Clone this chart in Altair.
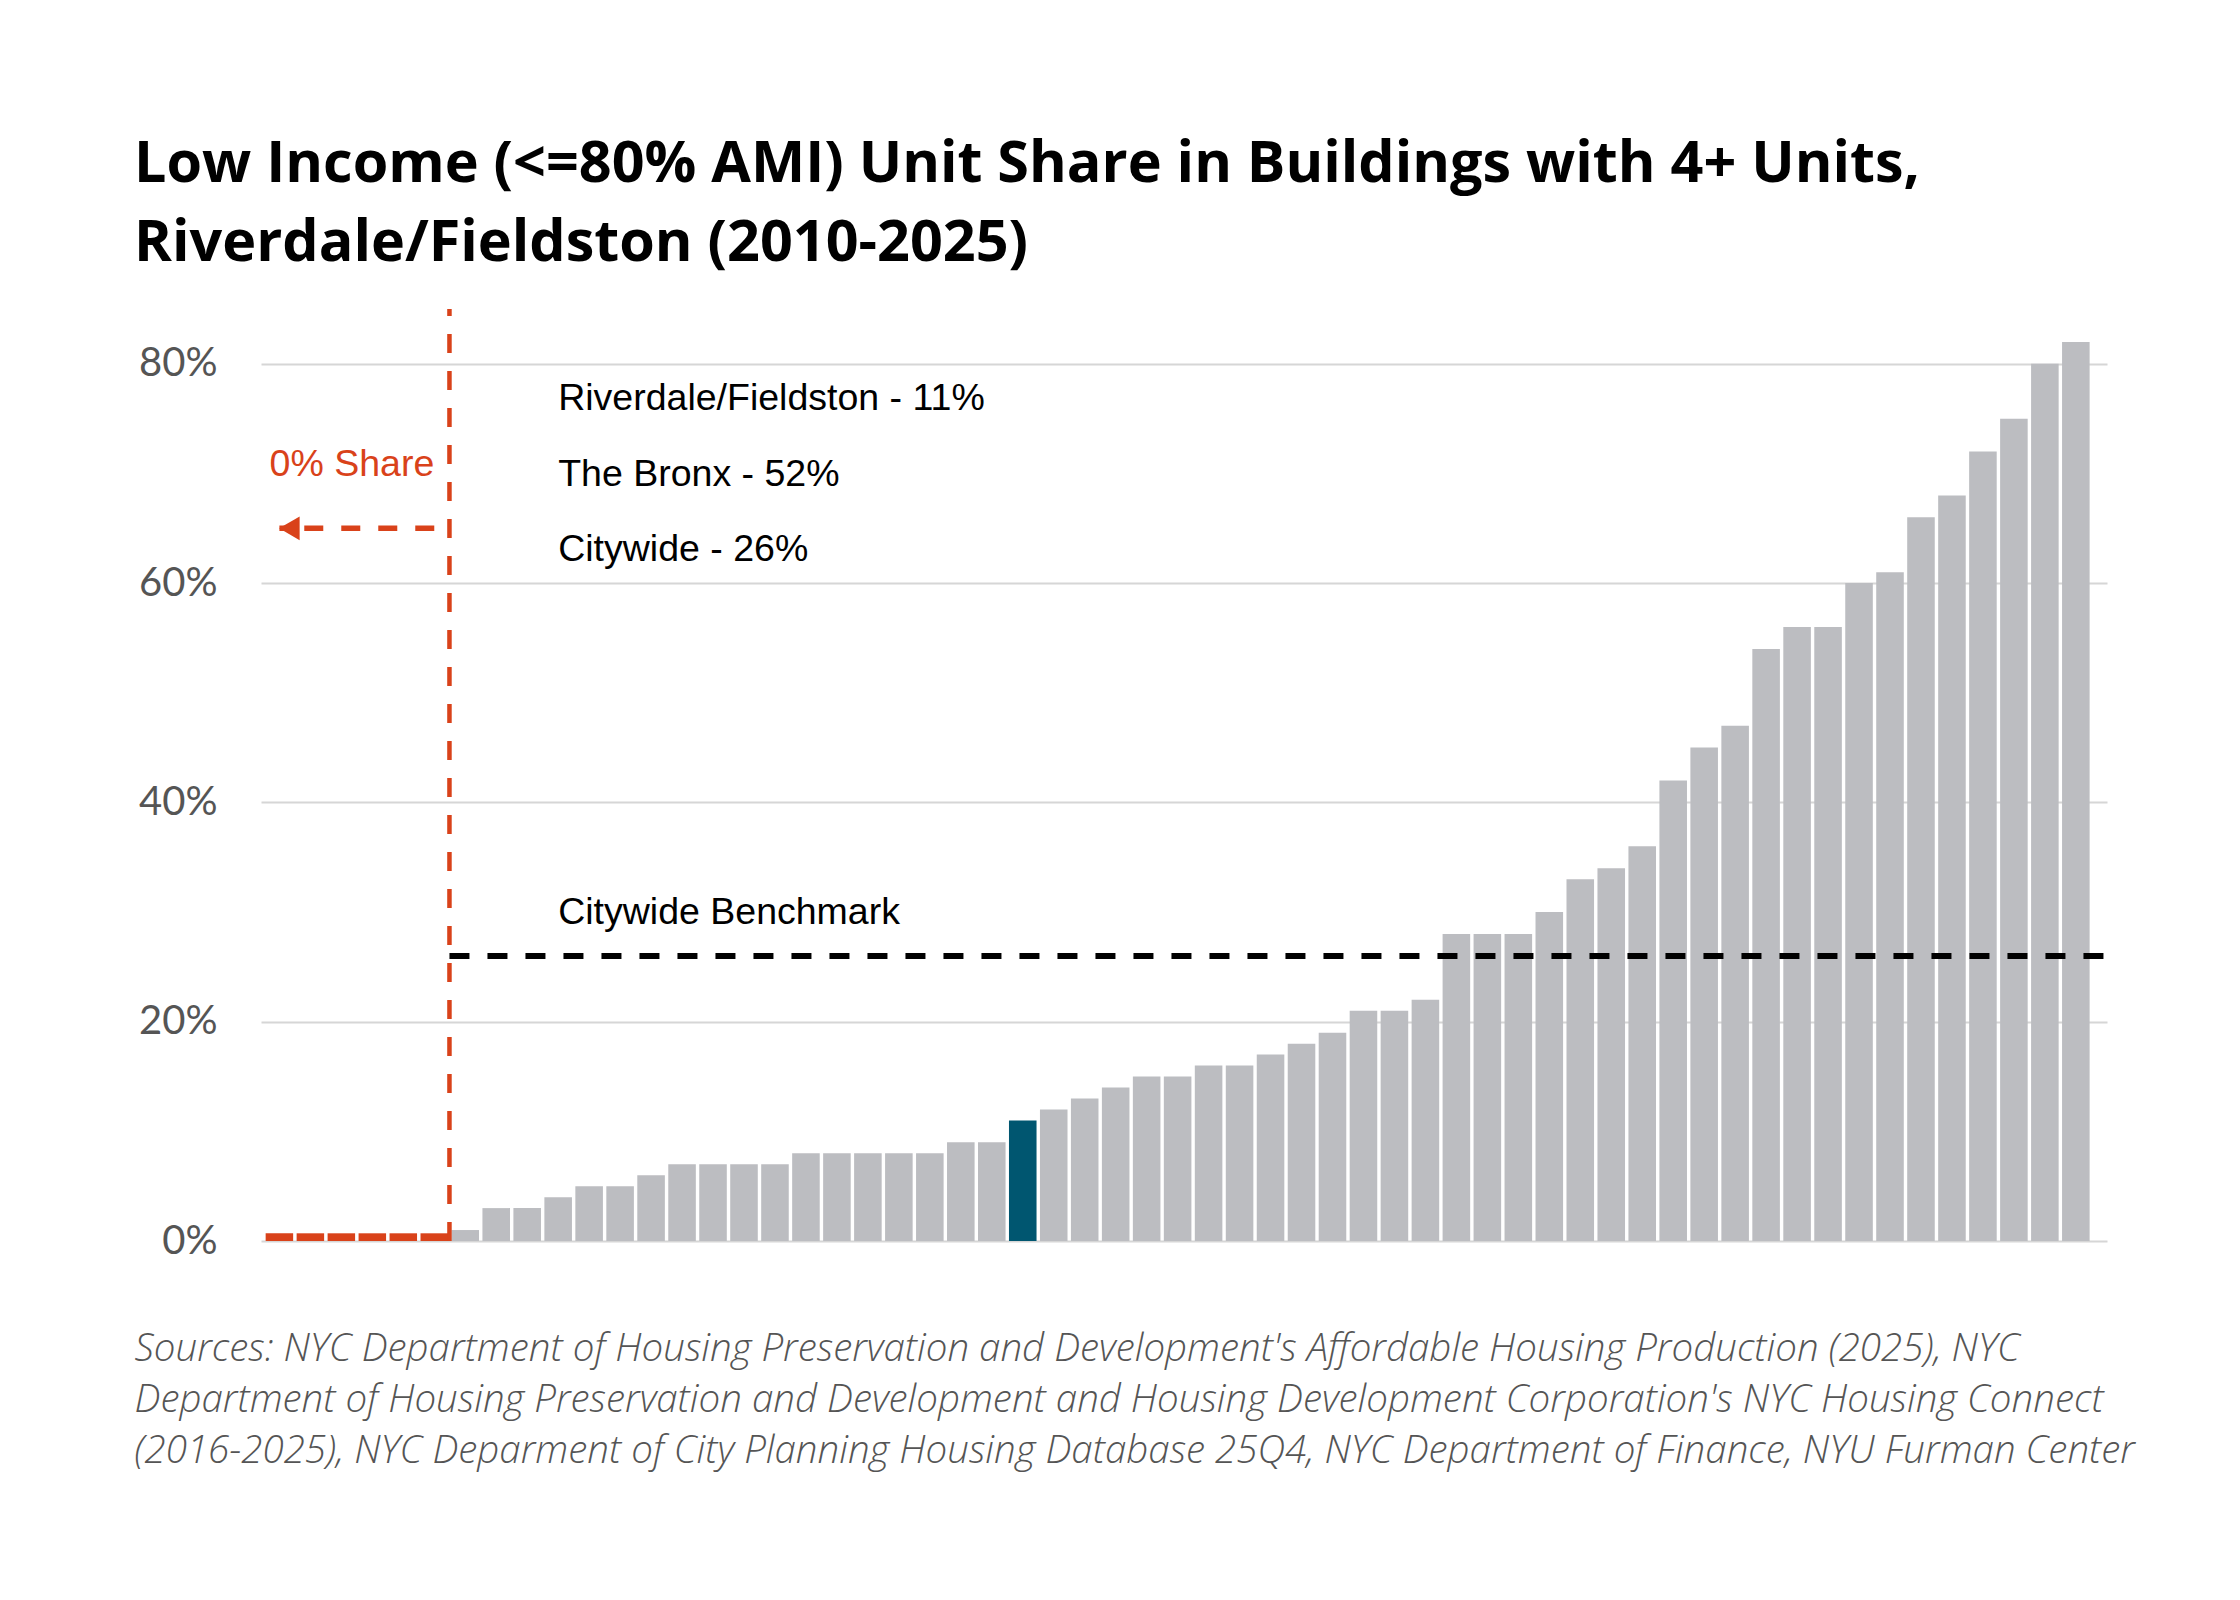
import altair as alt
import pandas as pd

# Ranked community-district shares (%), low income unit share, 4+ unit buildings
ranks = list(range(1, 60))
shares = [0, 0, 0, 0, 0, 0,
          1, 3, 3, 4, 5, 5, 6, 7, 7, 7, 7, 8, 8, 8, 8, 8, 9, 9,
          11, 12, 13, 14, 15, 15, 16, 16, 17, 18, 19, 21, 21, 22,
          28, 28, 28, 30, 33, 34, 36, 42, 45, 47, 54, 56, 56, 60, 61,
          66, 68, 72, 75, 80, 82]
highlight_rank = 25  # Riverdale/Fieldston

benchmark = 26
first_nonzero_rank = 7

legend_lines = ["Riverdale/Fieldston - 11%", "The Bronx - 52%", "Citywide - 26%"]
legend_y = [75.8, 68.9, 62.0]
bench_label = "Citywide Benchmark"
bench_label_y = 28.9
zero_label = "0% Share"
zero_label_y = 69.8
arrow_y = 65

title_lines = ["Low Income (<=80% AMI) Unit Share in Buildings with 4+ Units,",
               "Riverdale/Fieldston (2010-2025)"]
source_lines = [
    "Sources: NYC Department of Housing Preservation and Development's Affordable Housing Production (2025), NYC",
    "Department of Housing Preservation and Development and Housing Development Corporation's NYC Housing Connect",
    "\u00a0\u00a0(2016-2025), NYC Deparment of City Planning Housing Database 25Q4, NYC Department of Finance, NYU Furman Center",
]

W, H = 1846, 932
GRAY = "#BCBDC1"
BLUE = "#005670"
RED = "#D9421A"

df = pd.DataFrame({"rank": ranks, "share": shares})
df["hl"] = df["rank"] == highlight_rank

xscale = alt.Scale(domain=ranks, paddingInner=0.11, paddingOuter=0.355, align=0.21)
yscale = alt.Scale(domain=[0, 85])

xenc = alt.X("rank:O", scale=xscale, sort=None,
             axis=alt.Axis(labels=False, ticks=False, domain=False, grid=False,
                           title=source_lines, titleX=-127, titleY=119,
                           titleAlign="left", titleBaseline="alphabetic",
                           titleAnchor="start", titleAngle=0,
                           titleFont="Open Sans", titleFontStyle="italic", titleFontWeight=300,
                           titleFontSize=38.5, titleColor="#555555", titleLineHeight=51))
yenc = alt.Y("share:Q", scale=yscale,
             axis=alt.Axis(values=[0, 20, 40, 60, 80], labelExpr="datum.value + '%'",
                           title=None, domain=False, ticks=False, labelPadding=44,
                           labelFont="Lato", labelFontSize=40, labelColor="#555555",
                           gridColor="#D6D6D6", gridWidth=2))

base = alt.Chart(df)

bars = base.transform_filter("datum.share > 0").mark_bar().encode(
    x=xenc, y=yenc,
    color=alt.condition("datum.hl", alt.value(BLUE), alt.value(GRAY)),
)

zeros = base.transform_filter("datum.share == 0").mark_tick(
    color=RED, thickness=7.7, size=27.5, yOffset=-3.85, opacity=1
).encode(x=alt.X("rank:O", scale=xscale, sort=None), y=alt.Y("share:Q", scale=yscale))

vline = alt.Chart(pd.DataFrame({"rank": [first_nonzero_rank], "y0": [0], "y1": [85]})).mark_rule(
    color=RED, strokeWidth=4.5, strokeDash=[19, 18], xOffset=-2
).encode(x=alt.X("rank:O", scale=xscale, sort=None, bandPosition=0),
         y=alt.Y("y0:Q", scale=yscale), y2="y1:Q")

bench = alt.Chart(pd.DataFrame({"rank": [first_nonzero_rank], "v": [benchmark]})).mark_rule(
    color="black", strokeWidth=6, strokeDash=[20, 18], xOffset=-2
).encode(x=alt.X("rank:O", scale=xscale, sort=None, bandPosition=0),
         x2=alt.value(W), y=alt.Y("v:Q", scale=yscale))

arrow_line = alt.Chart(pd.DataFrame({"a": [6], "b": [1], "v": [arrow_y]})).mark_rule(
    color=RED, strokeWidth=5.5, strokeDash=[19, 18]
).encode(x=alt.X("a:O", scale=xscale, sort=None, bandPosition=0.5),
         x2=alt.X2("b:O", bandPosition=0.5), y=alt.Y("v:Q", scale=yscale))

arrow_head = alt.Chart(pd.DataFrame({"b": [1], "v": [arrow_y]})).mark_point(
    shape="triangle-left", filled=True, color=RED, size=560, opacity=1, xOffset=10
).encode(x=alt.X("b:O", scale=xscale, sort=None), y=alt.Y("v:Q", scale=yscale))

labels_df = pd.DataFrame({"rank": [10, 10, 10, 10], "v": legend_y + [bench_label_y],
                          "t": legend_lines + [bench_label]})
legend_text = alt.Chart(labels_df).mark_text(
    align="left", baseline="alphabetic", font="Liberation Sans", fontSize=37.5, color="black"
).encode(x=alt.X("rank:O", scale=xscale, sort=None), y=alt.Y("v:Q", scale=yscale), text="t:N")

zero_text = alt.Chart(pd.DataFrame({"rank": [6], "v": [zero_label_y], "t": [zero_label]})).mark_text(
    align="right", baseline="alphabetic", font="Liberation Sans", fontSize=37.5, color=RED
).encode(x=alt.X("rank:O", scale=xscale, sort=None), y=alt.Y("v:Q", scale=yscale), text="t:N")

chart = alt.layer(bars, zeros, vline, bench, arrow_line, arrow_head, legend_text, zero_text).properties(
    width=W, height=H,
    title=alt.TitleParams(text=title_lines, anchor="start", frame="group", dx=-127,
                          font="Open Sans", fontSize=57.5, fontWeight="bold", color="black",
                          lineHeight=79, offset=33),
    autosize=alt.AutoSizeParams(type="none"),
    padding={"left": 253, "top": 301, "right": 125, "bottom": 351},
    background="white",
).configure_view(stroke=None)

chart.save("out.html", embed_options={"renderer": "svg", "actions": False})
